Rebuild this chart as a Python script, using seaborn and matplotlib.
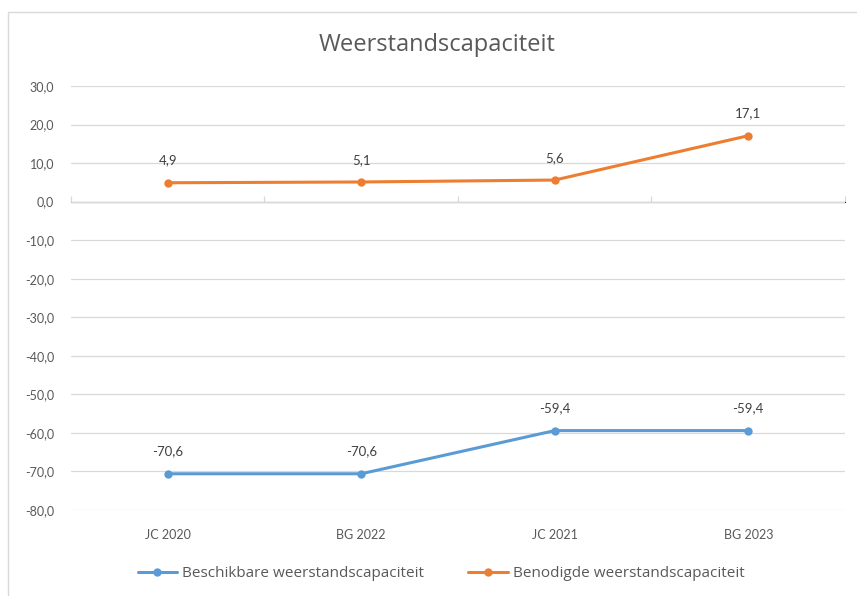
import matplotlib.pyplot as plt
import matplotlib.patches as mpatches
import seaborn as sns
import pandas as pd

categories = ["JC 2020", "BG 2022", "JC 2021", "BG 2023"]
beschikbaar = [-70.6, -70.6, -59.4, -59.4]
benodigd = [4.9, 5.1, 5.6, 17.1]
series_names = ["Beschikbare weerstandscapaciteit", "Benodigde weerstandscapaciteit"]
y_ticks = [30, 20, 10, 0, -10, -20, -30, -40, -50, -60, -70, -80]

df = pd.DataFrame({
    "categorie": categories * 2,
    "waarde": beschikbaar + benodigd,
    "reeks": [series_names[0]] * len(categories) + [series_names[1]] * len(categories),
})

sns.set_style("white")
plt.rcParams["font.family"] = ["Lato", "DejaVu Sans"]
text_col = "#595959"
grid_col = "#D9D9D9"
colors = ["#5B9BD5", "#ED7D31"]

fig = plt.figure(figsize=(8.57, 5.96), dpi=100)
ax = fig.add_axes([71 / 857, 1 - 510 / 596, (845 - 71) / 857, (510 - 86) / 596])

sns.lineplot(data=df, x="categorie", y="waarde", hue="reeks", palette=colors,
             marker="o", markersize=6, markeredgewidth=0, linewidth=2.2,
             sort=False, ax=ax, zorder=3)

ax.set_xlim(-0.5, len(categories) - 0.5)
ax.set_ylim(-80, 30)
ax.set_yticks(y_ticks)
ax.set_yticklabels([f"{v:.1f}".replace(".", ",") for v in y_ticks])
ax.grid(axis="y", color=grid_col, linewidth=0.9)
ax.set_axisbelow(True)
ax.set_xlabel("")
ax.set_ylabel("")
for s in ax.spines.values():
    s.set_visible(False)
ax.tick_params(axis="both", length=0, labelsize=9, labelcolor=text_col, pad=12)
ax.tick_params(axis="x", pad=14)

# category axis at y = 0 with tick marks between categories
sec = ax.secondary_xaxis(80 / 110)
sec.set_xticks([i - 0.5 for i in range(len(categories) + 1)])
sec.set_xticklabels([])
sec.tick_params(axis="x", direction="out", length=4, color=grid_col, width=0.9)
sec.spines["bottom"].set_color(grid_col)
sec.spines["bottom"].set_linewidth(0.9)

for vals in (beschikbaar, benodigd):
    for i, v in enumerate(vals):
        ax.annotate(f"{v:.1f}".replace(".", ","), (i, v), xytext=(0, 16),
                    textcoords="offset points", ha="center", va="center",
                    fontsize=9.5, color="#404040")

ax.legend(loc="upper center", bbox_to_anchor=(0.478, -0.1), ncol=2, frameon=False,
          prop={"family": ["Open Sans", "DejaVu Sans"], "size": 11},
          labelcolor=text_col, columnspacing=2.9, handlelength=2.6,
          handletextpad=0.3)

fig.text(0.51, 1 - 45 / 596, "Weerstandscapaciteit", ha="center", va="center",
         fontsize=17, color=text_col, family=["Open Sans", "DejaVu Sans"])

fig.patches.append(mpatches.Rectangle((8 / 857, -0.1), 1.2, 1 - 12 / 596 + 0.1,
                                      transform=fig.transFigure, fill=False,
                                      edgecolor=grid_col, linewidth=1))

fig.savefig("out.png", dpi=100)
